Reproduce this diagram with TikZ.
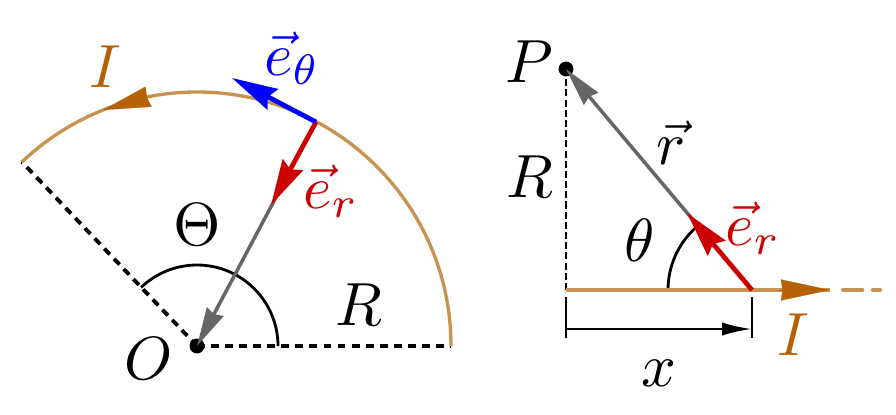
\documentclass[tikz,border=0pt]{standalone}
\usetikzlibrary{arrows.meta}
\definecolor{wire}{RGB}{200,146,80}
\definecolor{current}{RGB}{181,98,6}
\definecolor{radial}{RGB}{204,0,0}
\definecolor{vecgray}{RGB}{102,102,102}
\tikzset{
	lab/.style={inner sep=0pt,scale=3.47},
	dot/.style={circle,fill=black,inner sep=0pt,minimum size=8.5pt},
	bigtip/.style={-{Stealth[length=#1,width=12pt,inset=1pt]}},
	redtip/.style={-{Stealth[length=26pt,width=13pt,inset=3pt]}},
	graytip/.style={-{Stealth[length=22pt,width=10.5pt,inset=1.5pt]}},
	dash1/.style={line width=2.2pt,dash pattern=on 4.5pt off 3.5pt},
}
\begin{document}
\begin{tikzpicture}[x=0.02cm,y=0.02cm]
	\useasboundingbox (0,0) rectangle (896,414);
	%left part
	\coordinate (A) at (451,68);
	\coordinate (B) at (22,252);
	\coordinate (C) at (316,292);
	\coordinate (D) at (271,209);
	\coordinate (Etheta) at (232,336);
	\coordinate (Ibase) at (151,318);
	\coordinate (Itip) at (103,304);
	\coordinate (Aarc) at (278,68);
	\node[dot] (O) at (197,68) {};
	\draw[dash1] (O.center) -- (A);
	\draw[dash1] (O.center) -- (B);
	\draw[wire,line width=1.9pt] (A) arc[start angle=0,end angle=133.6,radius=254];
	\draw[line width=1.6pt] (Aarc) arc[start angle=0,end angle=133.6,radius=81];
	\draw[current,line width=.1pt,bigtip=27pt] (Ibase) -- (Itip);
	\draw[vecgray,line width=2pt,graytip] (C) -- (O.center);
	\draw[radial,line width=2.7pt,redtip] (C) -- (D);
	\draw[blue,line width=2.7pt,redtip] (C) -- (Etheta);
	\node[lab,text=current] (Ileft) at (105,347) {$I$};
	\node[lab,text=blue] (ethetalab) at (292,356) {$\vec{e}_\theta$};
	\node[lab,text=radial] (erleft) at (331,223) {$\vec{e}_r$};
	\node[lab] (Theta) at (197,189) {$\Theta$};
	\node[lab] (Rleft) at (359,109) {$R$};
	\node[lab] (Olab) at (149,55) {$O$};
	%right part
	\coordinate (F) at (566,124);
	\coordinate (G) at (752,124);
	\coordinate (H) at (687,201);
	\coordinate (Jtip) at (830,124);
	\coordinate (Jdash) at (843,124);
	\coordinate (Jend) at (880,124);
	\coordinate (Jbase) at (778,124);
	\coordinate (Tarc) at (668,124);
	\coordinate (K1) at (566,117);
	\coordinate (K2) at (566,76);
	\coordinate (L1) at (752,117);
	\coordinate (L2) at (752,76);
	\coordinate (M1) at (566,85);
	\coordinate (M2) at (752,85);
	\node[dot] (P) at (566,345) {};
	\draw[line width=1.5pt,dash pattern=on 4pt off 1.8pt] (P.center) -- (F);
	\draw[line width=1.6pt] (Tarc) arc[start angle=180,end angle=131,radius=84];
	\draw[wire,line width=2.4pt] (F) -- (Jtip);
	\draw[wire,line width=2.4pt,line cap=round,dash pattern=on 11pt off 6pt] (Jdash) -- (Jend);
	\draw[current,line width=.1pt,bigtip=28pt] (Jbase) -- (Jtip);
	\draw[vecgray,line width=2pt,graytip] (G) -- (P.center);
	\draw[radial,line width=2.7pt,redtip] (G) -- (H);
	\draw[line width=1.5pt] (K1) -- (K2);
	\draw[line width=1.5pt] (L1) -- (L2);
	\draw[line width=1.5pt,-{Latex[length=17pt,width=7.5pt]}] (M1) -- (M2);
	\node[lab] (Plab) at (529,352) {$P$};
	\node[lab] (Rright) at (530,237) {$R$};
	\node[lab] (rlab) at (671,271) {$\vec{r}$};
	\node[lab] (thetalab) at (640,174) {$\theta$};
	\node[lab,text=radial] (erright) at (753,186) {$\vec{e}_r$};
	\node[lab,text=current] (Iright) at (793,79) {$I$};
	\node[lab] (xlab) at (659,41) {$x$};
\end{tikzpicture}
\end{document}
